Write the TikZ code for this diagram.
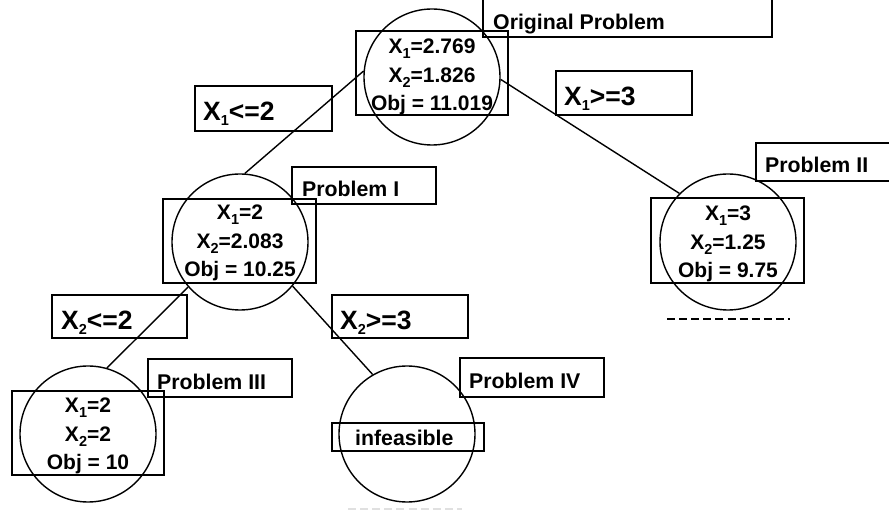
\documentclass[tikz,border=0pt]{standalone}
\usepackage{fontspec}
\setmainfont{Liberation Sans}
\newcommand\subx[1]{\raisebox{-5pt}{\fontsize{14.5}{14.5}\selectfont #1}}
\tikzset{
  circ/.style={circle, draw, line width=1.4pt, minimum size=136pt, inner sep=0pt},
  vbox/.style={draw, line width=1.4pt, inner sep=0pt},
  txt/.style={font=\bfseries\fontsize{21}{28.5}\selectfont, align=center, inner sep=0pt},
  lbl/.style={font=\bfseries\fontsize{21.3}{24}\selectfont, anchor=base west, inner sep=0pt},
  blbl/.style={font=\bfseries\fontsize{26.5}{30}\selectfont, anchor=base west, inner sep=0pt},
  conn/.style={line width=1.4pt},
  dashline/.style={line width=1.5pt, dash pattern=on 8pt off 4.1pt},
}
\begin{document}
\begin{tikzpicture}[x=1pt,y=-1pt]
\clip (0,0) rectangle (889,510);
% circles
\node[circ] (c0) at (432,77) {};
\node[circ] (c1) at (240,242) {};
\node[circ] (c2) at (728,242) {};
\node[circ] (c3) at (88,434) {};
\node[circ] (c4) at (407,434) {};
% value boxes
\node[vbox, minimum width=152pt, minimum height=84pt] (b0) at (432,73) {};
\node[vbox, minimum width=153pt, minimum height=84pt] (b1) at (239.5,241) {};
\node[vbox, minimum width=153pt, minimum height=85pt] (b2) at (727.5,240.5) {};
\node[vbox, minimum width=152pt, minimum height=84pt] (b3) at (88,433) {};
\node[vbox, minimum width=152pt, minimum height=28pt] (b4) at (408,437) {};
% values
\node[txt] (t0) at (432,77) {X\subx{1}=2.769\\X\subx{2}=1.826\\Obj = 11.019};
\node[txt] (t1) at (240,243) {X\subx{1}=2\\X\subx{2}=2.083\\Obj = 10.25};
\node[txt] (t2) at (728,244) {X\subx{1}=3\\X\subx{2}=1.25\\Obj = 9.75};
\node[txt] (t3) at (88,436) {X\subx{1}=2\\X\subx{2}=2\\Obj = 10};
\node[lbl] (t4) at (355,446) {infeasible};
% problem label boxes
\node[vbox, minimum width=289pt, minimum height=57pt] (p0) at (627.5,8.5) {};
\node[vbox, minimum width=144pt, minimum height=37pt] (p1) at (364,185.5) {};
\node[vbox, minimum width=149pt, minimum height=38pt] (p2) at (830.5,162) {};
\node[vbox, minimum width=144pt, minimum height=38pt] (p3) at (220,378) {};
\node[vbox, minimum width=144pt, minimum height=39pt] (p4) at (532,377.5) {};
\node[lbl] (q0) at (493,30) {Original Problem};
\node[lbl] (q1) at (302,197) {Problem I};
\node[lbl] (q2) at (765,173) {Problem II};
\node[lbl] (q3) at (157,390) {Problem III};
\node[lbl] (q4) at (469,389) {Problem IV};
% branch label boxes
\node[vbox, minimum width=137pt, minimum height=45pt] (e1) at (263.5,108.5) {};
\node[vbox, minimum width=136pt, minimum height=44pt] (e2) at (624,93) {};
\node[vbox, minimum width=135pt, minimum height=43pt] (e3) at (119.5,316.5) {};
\node[vbox, minimum width=136pt, minimum height=43pt] (e4) at (400,316.5) {};
\node[blbl] (f1) at (203,121) {X\subx{1}<=2};
\node[blbl] (f2) at (564,106) {X\subx{1}>=3};
\node[blbl] (f3) at (61,330) {X\subx{2}<=2};
\node[blbl] (f4) at (340,330) {X\subx{2}>=3};
% connectors
\draw[conn] (c0.175) -- (c1.86);
\draw[conn] (c0.-2) -- (c2.135);
\draw[conn] (c1.221) -- (c3.74);
\draw[conn] (c1.-40) -- (c4.120);
% dashed lines
\draw[dashline] (667,319) -- (790,319);
\draw[dashline, draw=black!12] (348,509) -- (462,509);
\end{tikzpicture}
\end{document}
